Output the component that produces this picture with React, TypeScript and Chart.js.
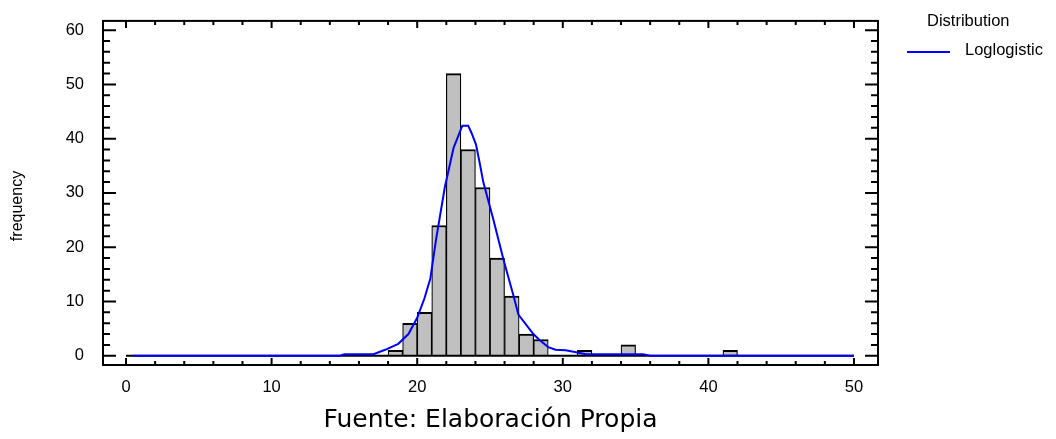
import { useEffect, useRef } from 'react';
import Chart from 'chart.js/auto';

// Histogram bins (lower edge, width 1) and counts
const binStarts = [18, 19, 20, 21, 22, 23, 24, 25, 26, 27, 28, 31, 34, 41];
const binCounts = [1, 6, 8, 24, 52, 38, 31, 18, 11, 4, 3, 1, 2, 1];

// Fitted Loglogistic curve
const curveX = [0.5, 14.7, 15.0, 17.0, 17.8, 18.7, 19.4, 20.0, 20.5, 20.9, 21.3, 21.9, 22.5, 23.1, 23.5, 23.74, 24.04, 24.31, 24.54, 25.23, 25.92, 26.6, 26.95, 27.98, 28.4, 29.0, 29.5, 30.2, 31.0, 31.6, 35.5, 36.0, 50.0];
const curveY = [0, 0, 0.3, 0.3, 1.1, 2.2, 4.0, 7.0, 10.6, 14.2, 21.5, 31.1, 38.3, 42.4, 42.4, 41.0, 38.9, 35.3, 32.0, 25.1, 17.8, 11.2, 7.6, 4.0, 2.9, 1.6, 1.1, 1.0, 0.6, 0.3, 0.3, 0, 0];

const xTickValues = [0, 10, 20, 30, 40, 50];
const yTickValues = [0, 10, 20, 30, 40, 50, 60];
const baselineX = [0, 50];

const seriesName = 'Loglogistic';
const legendTitle = 'Distribution';
const xTitle = 'Fuente: Elaboración Propia';
const yTitle = 'frequency';

const SANS = '"Liberation Sans", Arial, sans-serif';

export default function App() {
  const ref = useRef<HTMLCanvasElement>(null);

  useEffect(() => {
    if (!ref.current) return;

    const framePlugin = {
      id: 'frameTicks',
      afterDraw(chart: any) {
        const { ctx, chartArea: a, scales } = chart;
        const xs = scales.x;
        const ys = scales.y;
        ctx.save();
        ctx.strokeStyle = '#000';
        ctx.lineWidth = 2;
        ctx.beginPath();
        for (let v = 0; v <= 50; v += 2) {
          const p = xs.getPixelForValue(v);
          const L = v % 10 === 0 ? 7 : 4;
          ctx.moveTo(p, a.bottom);
          ctx.lineTo(p, a.bottom - L);
          ctx.moveTo(p, a.top);
          ctx.lineTo(p, a.top + L);
        }
        for (let v = 0; v <= 60; v += 2) {
          const p = ys.getPixelForValue(v);
          const L = v % 10 === 0 ? 13 : 7;
          ctx.moveTo(a.left, p);
          ctx.lineTo(a.left + L, p);
          ctx.moveTo(a.right, p);
          ctx.lineTo(a.right - L, p);
        }
        ctx.stroke();
        ctx.strokeRect(a.left, a.top, a.right - a.left, a.bottom - a.top);

        // y-axis title
        ctx.fillStyle = '#000';
        ctx.font = '16px ' + SANS;
        ctx.textAlign = 'center';
        ctx.textBaseline = 'middle';
        ctx.save();
        ctx.translate(17.5, 206);
        ctx.rotate(-Math.PI / 2);
        ctx.fillText(yTitle, 0, 0);
        ctx.restore();

        // legend
        ctx.font = '16.5px ' + SANS;
        ctx.textAlign = 'left';
        ctx.fillText(legendTitle, 927, 21);
        ctx.fillText(seriesName, 965, 50);
        ctx.strokeStyle = '#0000ff';
        ctx.lineWidth = 2;
        ctx.beginPath();
        ctx.moveTo(907, 52);
        ctx.lineTo(950, 52);
        ctx.stroke();
        ctx.restore();
      },
    };

    const chart = new Chart(ref.current, {
      type: 'bar',
      data: {
        datasets: [
          {
            type: 'line',
            label: seriesName,
            data: curveX.map((x, i) => ({ x, y: curveY[i] })),
            borderColor: '#0000ff',
            borderWidth: 2,
            pointRadius: 0,
            tension: 0,
            fill: false,
            order: 0,
          } as any,
          {
            type: 'line',
            label: 'baseline',
            data: baselineX.map((x) => ({ x, y: 0 })),
            borderColor: '#000',
            borderWidth: 2,
            pointRadius: 0,
            fill: false,
            order: 1,
          } as any,
          {
            type: 'bar',
            label: 'frequency',
            data: binStarts.map((s, i) => ({ x: s + 0.5, y: binCounts[i] })),
            backgroundColor: '#c0c0c0',
            borderColor: '#000',
            borderWidth: { top: 2, left: 1.2, right: 1.2, bottom: 0 },
            borderSkipped: 'start',
            barPercentage: 1,
            categoryPercentage: 1,
            order: 2,
          } as any,
        ],
      },
      options: {
        animation: false,
        responsive: true,
        maintainAspectRatio: false,
        layout: { padding: { left: 0, right: 178, top: 14, bottom: 0 } },
        plugins: { legend: { display: false }, tooltip: { enabled: false } },
        scales: {
          x: {
            type: 'linear',
            min: -1.58,
            max: 51.65,
            offset: false,
            grid: { display: false },
            border: { display: false },
            afterBuildTicks: (s: any) => {
              s.ticks = xTickValues.map((v) => ({ value: v }));
            },
            afterFit: (s: any) => {
              s.height = 74;
            },
            ticks: {
              color: '#000',
              font: { family: SANS, size: 16.5 },
              padding: 5,
              maxRotation: 0,
              autoSkip: false,
            },
            title: {
              display: true,
              text: xTitle,
              color: '#000',
              font: { family: '"DejaVu Sans", sans-serif', size: 25 },
              padding: { top: 0, bottom: 4 },
            },
          },
          y: {
            type: 'linear',
            min: -1.7,
            max: 61.7,
            grid: { display: false },
            border: { display: false },
            afterBuildTicks: (s: any) => {
              s.ticks = yTickValues.map((v) => ({ value: v }));
            },
            afterFit: (s: any) => {
              s.width = 103;
            },
            ticks: {
              color: '#000',
              font: { family: SANS, size: 16.5 },
              padding: 11,
            },
          },
        },
      },
      plugins: [framePlugin],
    });

    return () => chart.destroy();
  }, []);

  return (
    <div style={{ position: 'absolute', left: 0, top: 0, width: 1056, height: 439 }}>
      <canvas ref={ref} />
    </div>
  );
}
